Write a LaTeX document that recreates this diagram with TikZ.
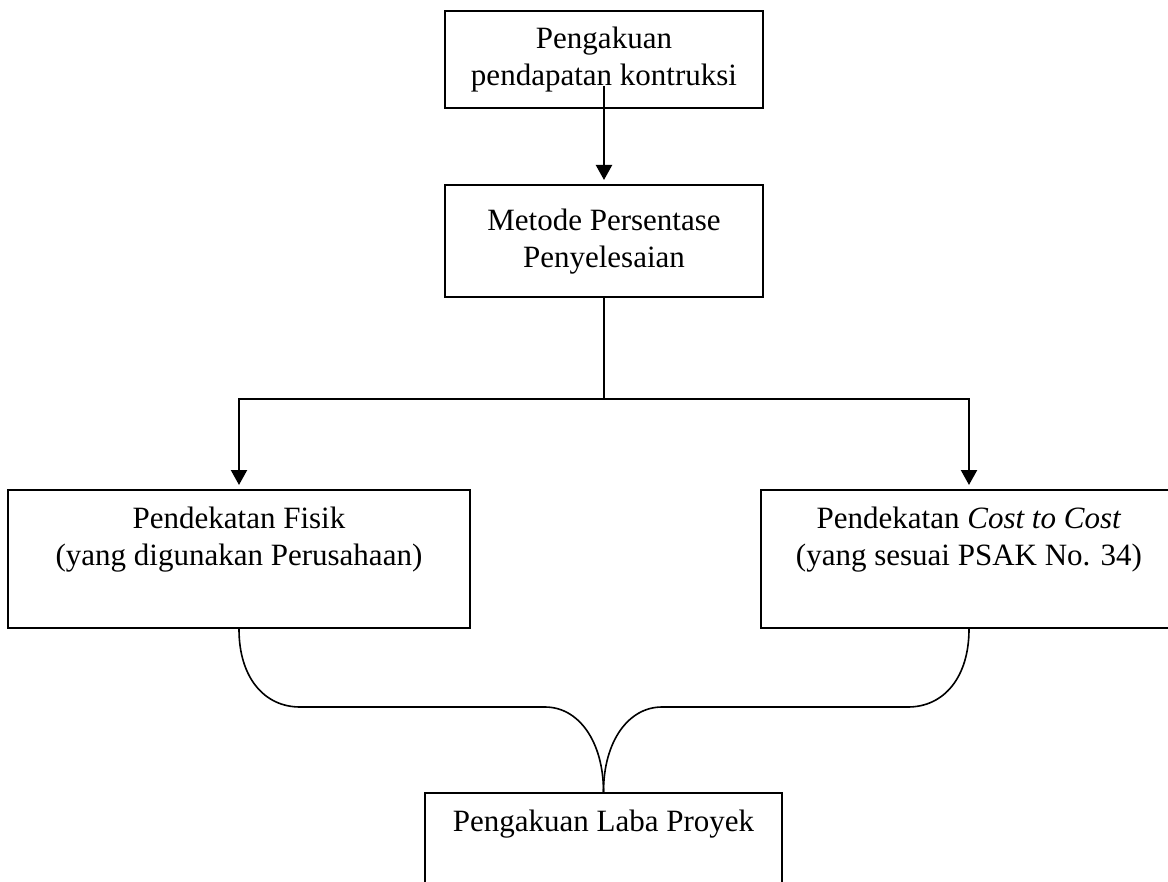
\documentclass[tikz,border=0pt]{standalone}
\usepackage{fontspec}
\setmainfont{Liberation Serif}
\usetikzlibrary{arrows.meta}

\begin{document}
\begin{tikzpicture}[x=0.5pt, y=-0.5pt,
    kotak/.style={draw, line width=1.1pt, inner sep=0pt, anchor=north, align=center,
      font=\fontsize{15.5pt}{18.5pt}\selectfont},
    isi/.style={anchor=north, align=center, inner sep=0pt, yshift=-9pt,
      font=\fontsize{15.5pt}{18.5pt}\selectfont},
    panah/.style={line width=1.1pt, -{Triangle[length=7.5pt,width=8pt]}, shorten >=2pt},
    garis/.style={line width=1.1pt},
    lengkung/.style={line width=0.8pt}]
    \useasboundingbox (0,0) rectangle (1168,882);

    % kotak atas
    \node[kotak, minimum width=159pt, minimum height=48.5pt] (pengakuan) at (604,10)
        {Pengakuan\\pendapatan kontruksi};
    \node[kotak, minimum width=159pt, minimum height=56pt] (metode) at (604,184)
        {Metode Persentase\\Penyelesaian};

    % dua pendekatan
    \node[kotak, minimum width=231pt, minimum height=69pt,
        label={[isi]north:{Pendekatan Fisik\\(yang digunakan Perusahaan)}}] (fisik) at (239,489) {};
    \node[kotak, minimum width=208pt, minimum height=69pt,
        label={[isi]north:{Pendekatan \textit{Cost to Cost}\\(yang sesuai PSAK No. 34)}}] (cost) at (969,489) {};

    % kotak bawah
    \node[kotak, minimum width=178.5pt, minimum height=60pt,
        label={[isi]north:Pengakuan Laba Proyek}] (laba) at (603.5,792) {};

    % panah
    \draw[panah] ([yshift=11.5pt]pengakuan.south) -- (metode.north);
    \draw[garis] (metode.south) -- (604,399) coordinate (cabang);
    \draw[panah] (cabang) -| (fisik.north);
    \draw[panah] (cabang) -| (cost.north);

    % lengkung ke laba
    \draw[lengkung] (fisik.south) .. controls +(0,48) and +(-36,0) .. (300,707)
        -- (545,707) .. controls +(34,0) and +(0,-50) .. (laba.north);
    \draw[lengkung] (cost.south) .. controls +(0,48) and +(36,0) .. (908,707)
        -- (662,707) .. controls +(-34,0) and +(0,-50) .. (laba.north);
\end{tikzpicture}
\end{document}
